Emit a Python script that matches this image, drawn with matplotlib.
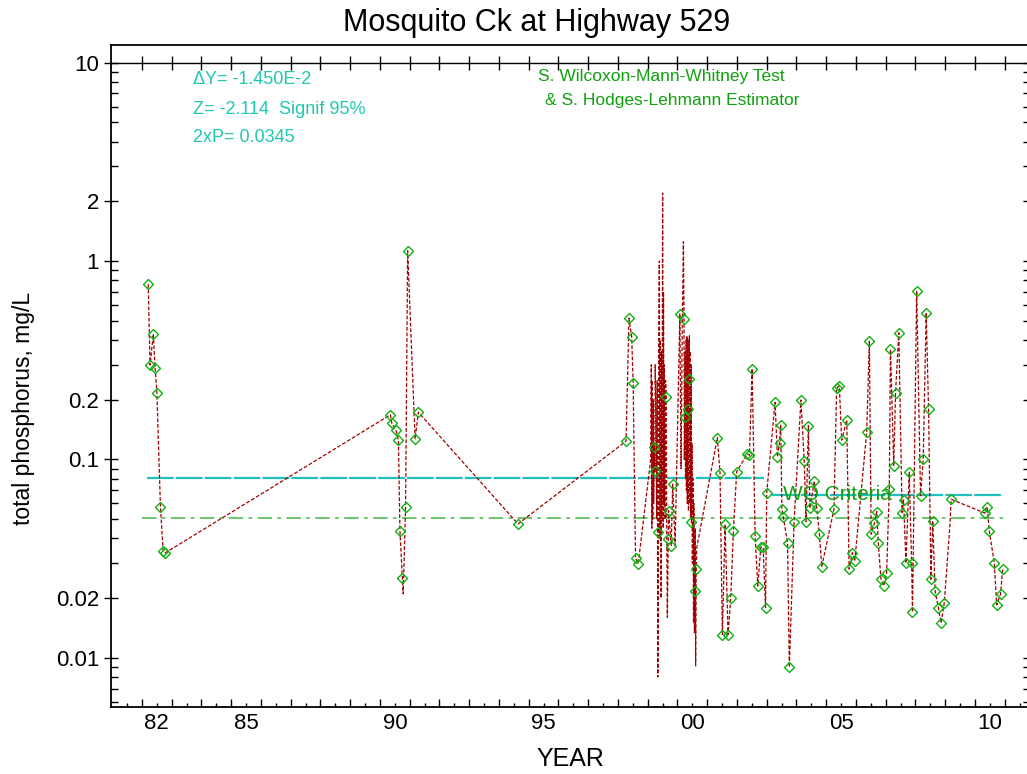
import numpy as np
import matplotlib
matplotlib.use("Agg")
import matplotlib.pyplot as plt
from matplotlib.ticker import FixedLocator, FuncFormatter, NullFormatter

plt.rcParams['font.family'] = ['Liberation Sans', 'DejaVu Sans']

# sample dates (decimal year), total phosphorus (mg/L), 1 = sample drawn with marker
years = [1982.21, 1982.27, 1982.38, 1982.44, 1982.50, 1982.62, 1982.71, 1982.78,
         1990.35, 1990.40, 1990.54, 1990.62, 1990.67, 1990.75, 1990.78, 1990.86,
         1990.93, 1991.18, 1991.29, 1994.64,
         1998.27, 1998.37, 1998.46, 1998.51, 1998.59, 1998.68,
         # dense record 1999
         1999.10, 1999.12, 1999.14, 1999.15, 1999.17, 1999.19, 1999.20, 1999.22,
         1999.24, 1999.25, 1999.27, 1999.30, 1999.32, 1999.34, 1999.36, 1999.37,
         1999.39, 1999.41, 1999.42, 1999.44, 1999.45, 1999.47, 1999.48, 1999.50,
         1999.52, 1999.53, 1999.55, 1999.56, 1999.58, 1999.60, 1999.62, 1999.64,
         1999.66, 1999.69, 1999.70, 1999.79, 1999.84, 1999.92,
         # dense record 2000
         2000.08, 2000.12, 2000.16, 2000.20, 2000.22, 2000.23, 2000.25, 2000.26,
         2000.27, 2000.29, 2000.30, 2000.32, 2000.33, 2000.35, 2000.36, 2000.37,
         2000.38, 2000.40, 2000.41, 2000.43, 2000.44, 2000.46, 2000.47, 2000.49,
         2000.50, 2000.52, 2000.54, 2000.55, 2000.57, 2000.58, 2000.60, 2000.61,
         2000.63, 2000.65,
         2001.34, 2001.43, 2001.51, 2001.60, 2001.70, 2001.79, 2001.88, 2001.99,
         2002.35, 2002.42, 2002.51, 2002.61, 2002.70, 2002.80, 2002.88, 2002.96,
         2003.00, 2003.28, 2003.36, 2003.43, 2003.47, 2003.51, 2003.56, 2003.70,
         2003.76, 2003.92, 2004.15, 2004.26, 2004.32, 2004.40, 2004.45, 2004.60,
         2004.68, 2004.77, 2004.85, 2005.26, 2005.35, 2005.44, 2005.52, 2005.69,
         2005.77, 2005.88, 2005.96, 2006.36, 2006.45, 2006.51, 2006.62, 2006.70,
         2006.75, 2006.84, 2006.94, 2007.03, 2007.12, 2007.16, 2007.27, 2007.33,
         2007.44, 2007.55, 2007.60, 2007.68, 2007.79, 2007.87, 2007.90, 2008.04,
         2008.17, 2008.26, 2008.36, 2008.44, 2008.52, 2008.58, 2008.66, 2008.77,
         2008.86, 2008.97, 2009.16, 2009.20, 2010.34, 2010.41, 2010.48, 2010.65,
         2010.73, 2010.86, 2010.93]

tp = [0.766, 0.299, 0.429, 0.289, 0.217, 0.0578, 0.0347, 0.0338,
      0.168, 0.152, 0.140, 0.125, 0.0438, 0.0254, 0.021, 0.0578,
      1.127, 0.127, 0.173, 0.0473,
      0.1236, 0.516, 0.416, 0.243, 0.0318, 0.0298,
      0.10, 0.30, 0.045, 0.25, 0.05, 0.20, 0.06, 0.116,
      0.087, 0.30, 0.20, 0.05, 0.25, 0.008, 0.0433, 0.35,
      1.0, 0.04, 0.40, 0.06, 0.020, 0.35, 0.05, 2.2,
      0.045, 0.70, 0.06, 0.30, 0.05, 0.25, 0.206, 0.04,
      0.016, 0.0397, 0.0552, 0.0368, 0.075, 0.0368,
      0.541, 0.09, 0.45, 1.25, 0.509, 0.10, 0.164, 0.35,
      0.08, 0.40, 0.07, 0.42, 0.06, 0.40, 0.18, 0.055,
      0.253, 0.42, 0.06, 0.35, 0.05, 0.30, 0.0483, 0.12,
      0.03, 0.08, 0.015, 0.06, 0.0134, 0.0216, 0.045, 0.0091,
      0.028, 0.036,
      0.1288, 0.0858, 0.0131, 0.0471, 0.0131, 0.0200, 0.0438, 0.0868,
      0.1066, 0.105, 0.287, 0.0409, 0.0230, 0.0361, 0.0361, 0.0179,
      0.0680, 0.194, 0.103, 0.121, 0.150, 0.0561, 0.0511, 0.0378,
      0.00898, 0.0486, 0.1995, 0.0986, 0.0486, 0.148, 0.0567, 0.0777,
      0.0567, 0.0420, 0.0288, 0.0561, 0.2285, 0.2346, 0.125, 0.158,
      0.0280, 0.0339, 0.0308, 0.1376, 0.394, 0.0420, 0.0477, 0.0546,
      0.0378, 0.0249, 0.0231, 0.0267, 0.0708, 0.359, 0.0927, 0.217,
      0.435, 0.054, 0.0625, 0.0300, 0.0862, 0.0300, 0.0170, 0.708,
      0.0657, 0.100, 0.549, 0.179, 0.0249, 0.0490, 0.0218, 0.0179,
      0.0150, 0.0190, 0.0473, 0.063, 0.0536, 0.0578, 0.0438, 0.0300,
      0.0185, 0.0210, 0.0280]

marked = [1, 1, 1, 1, 1, 1, 1, 1,
          1, 1, 1, 1, 1, 1, 0, 1,
          1, 1, 1, 1,
          1, 1, 1, 1, 1, 1,
          0, 0, 0, 0, 0, 0, 0, 1,
          1, 0, 0, 0, 0, 0, 1, 0,
          0, 0, 0, 0, 0, 0, 0, 0,
          0, 0, 0, 0, 0, 0, 1, 0,
          0, 1, 1, 1, 1, 0,
          1, 0, 0, 0, 1, 0, 1, 0,
          0, 0, 0, 0, 0, 0, 1, 0,
          1, 0, 0, 0, 0, 0, 1, 0,
          0, 0, 0, 0, 0, 1, 0, 0,
          1, 0] + [1] * 87
marked[-13] = 0  # 2009.20 has no marker

# Wilcoxon-Mann-Whitney before/after levels and criteria
before_span = (1982.17, 2002.90)
after_span = (2003.18, 2010.94)
before_level = 0.0802
after_level = 0.0659
wq_criteria = 0.0504
criteria_span = (1982.00, 2010.94)

label_years = [1982, 1985, 1990, 1995, 2000, 2005, 2010]

years = np.array(years)
tp = np.array(tp)
marked = np.array(marked[:len(years)], dtype=bool)

fig = plt.figure(figsize=(10.27, 7.74), dpi=100)
ax = fig.add_axes([111 / 1027, 1 - 707 / 774, (1030 - 111) / 1027, (707 - 45) / 774])
ax.set_yscale('log')
ax.set_xlim(1980.958, 2011.85)
ax.set_ylim(0.00565, 12.28)

ax.plot(years, tp, color='#a00000', lw=0.9, ls=(0, (3, 1.5)), zorder=3)
ax.plot(years[marked], tp[marked], ls='none', marker='D', ms=5, mfc='none',
        mec='#10b010', mew=1.0, zorder=4)

ax.hlines(before_level, *before_span, color='#20c0c0', lw=1.6, ls=(0, (12, 1)), zorder=2)
ax.hlines(after_level, *after_span, color='#20c0c0', lw=1.6, ls=(0, (12, 1)), zorder=2)
ax.hlines(wq_criteria, *criteria_span, color='#60c060', lw=1.3, ls=(0, (8, 3, 2, 3)), zorder=2)
ax.text(2003.55, 0.0665, 'WQ Criteria', color='#10a010', fontsize=15,
        ha='left', va='center', zorder=5)

# axes styling
for side in ('left', 'bottom', 'top', 'right'):
    ax.spines[side].set_linewidth(1.3)

ax.xaxis.set_major_locator(FixedLocator(np.arange(1982, 2012)))
ax.xaxis.set_minor_locator(FixedLocator(np.arange(1981.5, 2012, 1.0)))
ax.xaxis.set_major_formatter(NullFormatter())
ax.xaxis.set_minor_formatter(FuncFormatter(
    lambda v, p: '%02d' % (int(v) % 100) if int(v) in label_years else ''))
ax.tick_params(axis='x', which='major', direction='in', length=6, width=1)
ax.tick_params(axis='x', which='minor', direction='in', length=3, width=1,
               labelsize=16, pad=4)

ax.yaxis.set_major_locator(FixedLocator([0.01, 0.02, 0.1, 0.2, 1, 2, 10]))
ax.yaxis.set_major_formatter(FuncFormatter(lambda v, p: '%g' % v))
ax.yaxis.set_minor_locator(FixedLocator(
    [m * 10.0 ** e for e in (-3, -2, -1, 0, 1) for m in (3, 4, 5, 6, 7, 8, 9)]))
ax.yaxis.set_minor_formatter(NullFormatter())
ax.tick_params(axis='y', which='major', direction='inout', length=10, width=1,
               labelsize=16, right=True)
ax.tick_params(axis='y', which='minor', direction='in', length=5, width=1, right=True)

# year axis line drawn at the 10 mg/L level
frac = (1 - np.log10(0.00565)) / (np.log10(12.28) - np.log10(0.00565))
sec = ax.secondary_xaxis(frac)
sec.set_xticks(np.arange(1982, 2012))
sec.tick_params(direction='inout', length=10, width=1, labelbottom=False, labeltop=False)
sec.spines['top'].set_linewidth(1.0)
sec.spines['bottom'].set_linewidth(1.0)

ax.set_xlabel('YEAR', fontsize=18, labelpad=10)
fig.text(24 / 1027, 1 - 408 / 774, 'total phosphorus, mg/L', fontsize=16.5,
         rotation=90, ha='center', va='center')
fig.text(0.523, 0.970, 'Mosquito Ck at Highway 529', fontsize=22, ha='center', va='center')

# test statistics
fig.text(193 / 1027, 1 - 80 / 774, '\u0394Y= -1.450E-2', color='#20c8b0', fontsize=13, va='center')
fig.text(193 / 1027, 1 - 109 / 774, 'Z= -2.114  Signif 95%', color='#20c8b0', fontsize=13, va='center')
fig.text(193 / 1027, 1 - 138 / 774, '2xP= 0.0345', color='#20c8b0', fontsize=13, va='center')
fig.text(538 / 1027, 1 - 77 / 774, 'S. Wilcoxon-Mann-Whitney Test', color='#10a010',
         fontsize=12.5, va='center')
fig.text(545 / 1027, 1 - 100 / 774, '& S. Hodges-Lehmann Estimator', color='#10a010',
         fontsize=12.5, va='center')

fig.savefig('out.png', dpi=100)
